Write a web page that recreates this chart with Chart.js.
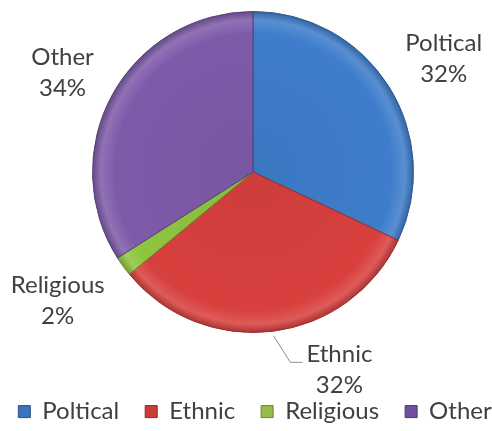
<!DOCTYPE html>
<html><head><meta charset="utf-8">
<script src="https://cdn.jsdelivr.net/npm/chart.js@4/dist/chart.umd.min.js"></script>
<style>html,body{margin:0;padding:0;background:#fff}#wrap{width:492px;height:431px;position:relative}</style>
</head><body><div id="wrap"><canvas id="c"></canvas></div>
<script>
const categories = ['Poltical', 'Ethnic', 'Religious', 'Other'];
const shares = [32, 32, 2, 34];
const sliceColors = ['#3E7DCB', '#D8403E', '#8EC540', '#7E5BA9'];
const legendColors = ['#3A74BE', '#CC3B3A', '#93BE47', '#7050A0'];
const labelShift = [[13, 0], [60, -11], [-25, 5], [-6, 2]];
const leaderFor = [false, true, false, false];

function shade(hex, amt) {
  const n = parseInt(hex.slice(1), 16);
  let r = (n >> 16) & 255, g = (n >> 8) & 255, b = n & 255;
  const f = (v) => Math.round(amt >= 0 ? v + (255 - v) * amt : v * (1 + amt));
  return 'rgb(' + f(r) + ',' + f(g) + ',' + f(b) + ')';
}

const TEXT_COLOR = '#404040';
const FONT = '24px Lato';

const sliceLabels = {
  id: 'sliceLabels',
  afterDatasetsDraw(chart) {
    const ctx = chart.ctx;
    const meta = chart.getDatasetMeta(0);
    const total = shares.reduce((a, b) => a + b, 0);
    ctx.save();
    ctx.font = FONT;
    ctx.fillStyle = TEXT_COLOR;
    ctx.textAlign = 'center';
    ctx.textBaseline = 'middle';
    meta.data.forEach((arc, i) => {
      const p = arc.getProps(['x', 'y', 'startAngle', 'endAngle', 'outerRadius'], true);
      const mid = (p.startAngle + p.endAngle) / 2;
      const d = p.outerRadius + 50;
      const lx = p.x + Math.cos(mid) * d + labelShift[i][0];
      const ly = p.y + Math.sin(mid) * d + labelShift[i][1];
      const pct = Math.round(shares[i] / total * 100) + '%';
      ctx.fillText(categories[i], lx, ly - 15.5);
      ctx.fillText(pct, lx, ly + 15.5);
      if (leaderFor[i]) {
        const sx = p.x + Math.cos(mid) * (p.outerRadius + 5);
        const sy = p.y + Math.sin(mid) * (p.outerRadius + 5);
        ctx.save();
        ctx.strokeStyle = '#8C8C8C';
        ctx.lineWidth = 1;
        ctx.beginPath();
        ctx.moveTo(sx, sy);
        ctx.lineTo(lx - 49, ly - 7.5);
        ctx.lineTo(lx - 37, ly - 7.5);
        ctx.stroke();
        ctx.restore();
      }
    });
    ctx.restore();
  }
};

const LEGEND_BOX_H = 98;
const LEGEND_SHIFT = 40.6;
const LEGEND_CENTER_X = 255;
const legendTweak = {
  id: 'legendTweak',
  beforeLayout(chart) {
    const lg = chart.legend;
    if (!lg || lg._tweaked) return;
    const fit = lg.fit;
    lg.fit = function () {
      this.maxWidth = chart.width + 400;
      fit.call(this);
      this.height = LEGEND_BOX_H;
    };
    lg._tweaked = true;
  },
  afterLayout(chart) {
    const lg = chart.legend;
    lg.top += LEGEND_SHIFT;
    lg.bottom += LEGEND_SHIFT;
    lg.left = LEGEND_CENTER_X - 300;
    lg.right = LEGEND_CENTER_X + 300;
    lg.width = 600;
  }
};

new Chart(document.getElementById('c'), {
  type: 'pie',
  data: {
    labels: categories,
    datasets: [{
      data: shares,
      backgroundColor: (c) => {
        const base = sliceColors[c.dataIndex];
        const area = c.chart.chartArea;
        if (!area) return base;
        const cx = (area.left + area.right) / 2, cy = (area.top + area.bottom) / 2;
        const r = Math.min(area.width, area.height) / 2;
        const g = c.chart.ctx.createRadialGradient(cx, cy, 0, cx, cy, r);
        g.addColorStop(0, shade(base, -0.05));
        g.addColorStop(0.86, base);
        g.addColorStop(0.945, shade(base, 0.14));
        g.addColorStop(1, shade(base, -0.22));
        return g;
      },
      borderColor: sliceColors.map(c => shade(c, -0.3)),
      borderWidth: 1,
      hoverOffset: 0
    }]
  },
  options: {
    responsive: true,
    maintainAspectRatio: false,
    animation: false,
    layout: { padding: { top: 11, left: 92, right: 78, bottom: 0 } },
    plugins: {
      tooltip: { enabled: false },
      legend: {
        position: 'bottom',
        labels: {
          boxWidth: 12,
          boxHeight: 12,
          padding: 26,
          color: TEXT_COLOR,
          font: { family: 'Lato', size: 24 },
          generateLabels: () => categories.map((c, i) => ({
            text: c,
            fillStyle: legendColors[i],
            strokeStyle: shade(legendColors[i], -0.3),
            lineWidth: 1,
            fontColor: TEXT_COLOR,
            hidden: false,
            index: i,
            datasetIndex: 0
          }))
        }
      }
    }
  },
  plugins: [sliceLabels, legendTweak]
});
</script>
</body></html>
